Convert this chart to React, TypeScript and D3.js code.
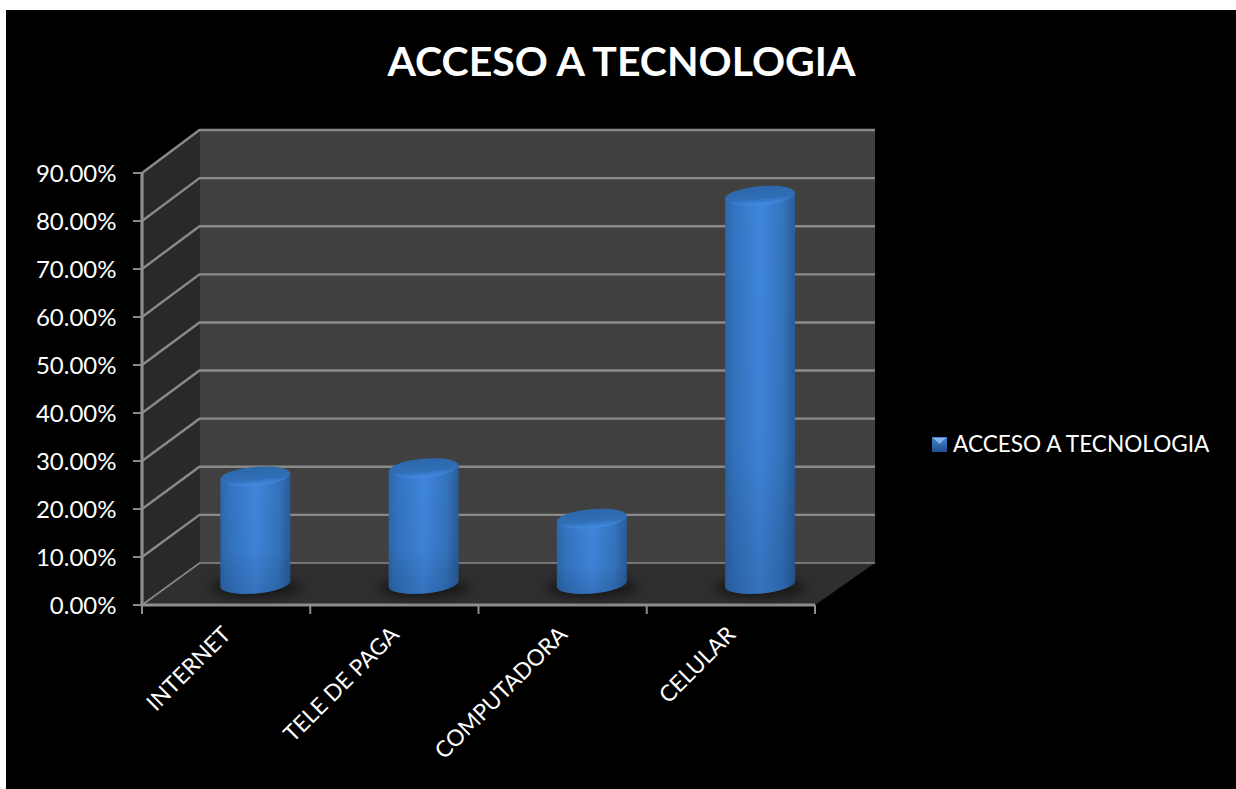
import React from "react";
import * as d3 from "d3";

const categories = ["INTERNET", "TELE DE PAGA", "COMPUTADORA", "CELULAR"];
const values = [22.4, 24.1, 13.6, 80.8];
const yTicks = [0, 10, 20, 30, 40, 50, 60, 70, 80, 90];
const title = "ACCESO A TECNOLOGIA";
const font = "Lato, Carlito, 'Open Sans', sans-serif";

const xFront = d3.scaleLinear().domain([0, 4]).range([142, 815]);
const yFront = d3.scaleLinear().domain([0, 90]).range([605, 173]);
const yBack = d3.scaleLinear().domain([0, 90]).range([563, 130]);
const depthX = 57.5;
const line = d3.line();
const yMid = (v: number) => (yFront(v) + yBack(v)) / 2;

export default function App() {
  const x0 = xFront(0), x1 = xFront(4);
  const rx = 35, ry = 9.5, tilt = -5;
  return (
    <svg width={1236} height={789} style={{ position: "absolute", left: 0, top: 0, background: "#fff" }}>
      <defs>
        <linearGradient id="cyl" x1="0" x2="1" y1="0" y2="0">
          <stop offset="0" stopColor="#2e66ab" />
          <stop offset="0.1" stopColor="#3272bd" />
          <stop offset="0.5" stopColor="#3f86dc" />
          <stop offset="0.82" stopColor="#3475c0" />
          <stop offset="1" stopColor="#2a5b98" />
        </linearGradient>
        <linearGradient id="shade" x1="0" x2="0" y1="0" y2="1">
          <stop offset="0" stopColor="#000" stopOpacity="0" />
          <stop offset="0.65" stopColor="#000" stopOpacity="0.03" />
          <stop offset="1" stopColor="#0a1a3a" stopOpacity="0.18" />
        </linearGradient>
        <linearGradient id="cap" x1="0" x2="0" y1="0" y2="1">
          <stop offset="0" stopColor="#2c68aa" />
          <stop offset="0.62" stopColor="#2f6eb6" />
          <stop offset="0.95" stopColor="#4088e0" />
        </linearGradient>
        <linearGradient id="swatch" x1="0" x2="0" y1="0" y2="1">
          <stop offset="0" stopColor="#3f85d8" />
          <stop offset="1" stopColor="#22508c" />
        </linearGradient>
        <filter id="blur" x="-30%" y="-60%" width="160%" height="220%">
          <feGaussianBlur stdDeviation="6" />
        </filter>
      </defs>
      <rect x={6} y={10} width={1230} height={779} fill="#000" />

      <text x={621.5} y={76} textAnchor="middle" fill="#fff" fontFamily={font} fontWeight={700} fontSize={41}>{title}</text>

      {/* walls and floor */}
      <path d={line([[x0, yFront(0)], [x0, yFront(90)], [x0 + depthX, yBack(90)], [x0 + depthX, yBack(0)]])! + "Z"} fill="#292929" />
      <path d={line([[x0 + depthX, yBack(0)], [x0 + depthX, yBack(90)], [875, yBack(90)], [875, yBack(0)]])! + "Z"} fill="#404040" />
      <path d={line([[x0, yFront(0)], [x0 + depthX, yBack(0)], [875, yBack(0)], [x1, yFront(0)]])! + "Z"} fill="#2f2f2f" />

      {/* gridlines */}
      {yTicks.map((t) => (
        <g key={t}>
          <path d={line([[x0, yFront(t)], [x0 + depthX, yBack(t)], [875, yBack(t)]])!} fill="none" stroke="#8a8a8a" strokeWidth={t === 0 ? 1.6 : 2.4} />
          <path d={line([[x0 - 9, yFront(t)], [x0, yFront(t)]])!} stroke="#8a8a8a" strokeWidth={2} />
          <text x={116.5} y={yFront(t) + 9} textAnchor="end" fill="#fff" fontFamily={font} fontSize={24}>{t.toFixed(2)}%</text>
        </g>
      ))}
      <path d={line([[x0, yFront(90)], [x0, yFront(0)], [x1, yFront(0)]])!} fill="none" stroke="#8e8e8e" strokeWidth={3.2} />
      {d3.range(5).map((i) => (
        <path key={i} d={line([[xFront(i), yFront(0)], [xFront(i), yFront(0) + 9]])!} stroke="#8e8e8e" strokeWidth={2} />
      ))}

      {/* cylinders */}
      {categories.map((c, i) => {
        const cx = xFront(i + 0.5) + depthX / 2 + 0.5;
        const top = yMid(values[i]);
        const bot = yMid(0);
        const body = `M${cx - rx},${top + 3} L${cx - rx},${bot + 3} A${rx},${ry} ${tilt} 0 0 ${cx + rx},${bot - 3} L${cx + rx},${top - 3} Z`;
        return (
          <g key={c}>
            <ellipse cx={cx} cy={bot + 4} rx={rx + 12} ry={ry} fill="#000" opacity={0.5} filter="url(#blur)" />
            <path d={body} fill="url(#cyl)" />
            <path d={body} fill="url(#shade)" />
            <ellipse cx={cx} cy={top} rx={rx} ry={ry} transform={`rotate(${tilt} ${cx} ${top})`} fill="url(#cap)" />
          </g>
        );
      })}

      {/* x labels */}
      {categories.map((c, i) => {
        const lx = xFront(i + 0.5) + 6;
        return (
          <text key={c} transform={`translate(${lx},${636}) rotate(-45)`} textAnchor="end" fill="#fff" fontFamily={font} fontSize={22.6}>{c}</text>
        );
      })}

      {/* legend */}
      <rect x={932} y={437} width={15} height={15} fill="url(#swatch)" />
      <path d={line([[933, 438], [946, 438], [939.5, 444]])! + "Z"} fill="#9cc3ee" opacity={0.75} />
      <text x={953} y={452} fill="#fff" fontFamily={font} fontSize={22.6}>{title}</text>
    </svg>
  );
}
